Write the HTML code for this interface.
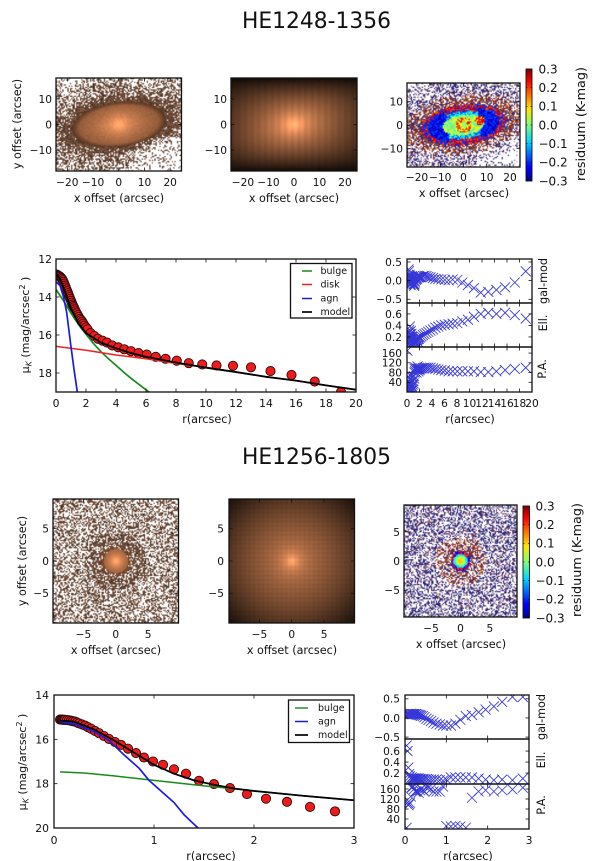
<!DOCTYPE html>
<html lang="en">
<head>
<meta charset="utf-8">
<title>HE1248-1356 and HE1256-1805 galaxy fits</title>
<style>
html,body{margin:0;padding:0;background:#fff;}
#figure{position:relative;width:600px;height:861px;overflow:hidden;background:#fff;font-family:"DejaVu Sans","Liberation Sans",sans-serif;}
canvas{position:absolute;display:block;}
svg{position:absolute;left:0;top:0;}
text{font-family:"DejaVu Sans","Liberation Sans",sans-serif;fill:#111;}
.lab{font-size:11.2px;text-anchor:middle;}
.side{font-size:11.2px;text-anchor:middle;}
.cb{font-size:12.8px;text-anchor:middle;}
.ttl{font-size:21.8px;text-anchor:middle;}
</style>
</head>
<body>
<div id="figure">
<canvas id="img1a" style="left:56px;top:78px;width:125.5px;height:93px"></canvas>
<canvas id="img1b" style="left:231px;top:78px;width:126px;height:93px"></canvas>
<canvas id="img1c" style="left:407px;top:83px;width:113px;height:84px"></canvas>
<canvas id="img2a" style="left:53px;top:499px;width:125.5px;height:124px"></canvas>
<canvas id="img2b" style="left:229px;top:499px;width:125.5px;height:124px"></canvas>
<canvas id="img2c" style="left:404px;top:505px;width:113px;height:112px"></canvas>
<svg id="plot" width="600" height="861" viewBox="0 0 600 861">
<defs>
<linearGradient id="jetGrad" x1="0" y1="1" x2="0" y2="0">
<stop offset="0" stop-color="#00007f"/><stop offset="0.11" stop-color="#0000ff"/><stop offset="0.125" stop-color="#0000ff"/>
<stop offset="0.35" stop-color="#00d5ff"/><stop offset="0.5" stop-color="#7dff7a"/><stop offset="0.64" stop-color="#ffe600"/>
<stop offset="0.89" stop-color="#ff0000"/><stop offset="1" stop-color="#7f0000"/>
</linearGradient>
</defs>
<text class="ttl" x="316.5" y="28">HE1248-1356</text>
<text class="ttl" x="316.5" y="464">HE1256-1805</text>

<text class="lab" x="119" y="202">x offset (arcsec)</text>
<text class="lab" x="294" y="202">x offset (arcsec)</text>
<text class="lab" x="464" y="197">x offset (arcsec)</text>
<text class="lab" transform="translate(21,124) rotate(-90)">y offset (arcsec)</text>
<text class="cb" transform="translate(585,124) rotate(-90)">residuum (K-mag)</text>

<text class="lab" x="116" y="654">x offset (arcsec)</text>
<text class="lab" x="292" y="654">x offset (arcsec)</text>
<text class="lab" x="461" y="648">x offset (arcsec)</text>
<text class="lab" transform="translate(26,561) rotate(-90)">y offset (arcsec)</text>
<text class="cb" transform="translate(581,560) rotate(-90)">residuum (K-mag)</text>

<text class="lab" x="207" y="423">r(arcsec)</text>
<text class="lab" x="470" y="423">r(arcsec)</text>
<text class="lab" x="211" y="860">r(arcsec)</text>
<text class="lab" x="468" y="860">r(arcsec)</text>
<text class="lab" style="font-size:11px" transform="translate(29,325) rotate(-90)">μ<tspan dy="2.5" font-size="8" font-style="italic">K</tspan><tspan dy="-2.5"> (mag/arcsec</tspan><tspan dy="-4" font-size="8">2</tspan><tspan dy="4"> )</tspan></text>
<text class="lab" style="font-size:11px" transform="translate(26,762) rotate(-90)">μ<tspan dy="2.5" font-size="8" font-style="italic">K</tspan><tspan dy="-2.5"> (mag/arcsec</tspan><tspan dy="-4" font-size="8">2</tspan><tspan dy="4"> )</tspan></text>

<text class="side" transform="translate(547,281) rotate(-90)">gal-mod</text>
<text class="side" transform="translate(547,323) rotate(-90)">Ell.</text>
<text class="side" transform="translate(546,369) rotate(-90)">P.A.</text>
<text class="side" transform="translate(545,717) rotate(-90)">gal-mod</text>
<text class="side" transform="translate(545,760) rotate(-90)">Ell.</text>
<text class="side" transform="translate(545,805) rotate(-90)">P.A.</text>
</svg>
</div>
<script>
/* ---------- HE1248-1356 profile data ---------- */
const p1Radius = [0.05,0.1,0.15,0.2,0.25,0.3,0.35,0.4,0.45,0.5,0.55,0.6,0.65,0.7,0.75,0.8,0.85,0.9,0.95,1,1.05,1.1,1.15,1.2,1.25,1.3,1.38,1.45,1.52,1.6,1.68,1.75,1.82,1.9,2,2.1,2.3,2.55,2.8,3.1,3.4,3.75,4.15,4.55,5,5.5,6.05,6.65,7.3,8.05,8.85,9.75,10.7,11.8,13,14.3,15.7,17.25,19];
const p1Mu = [12.82,12.85,12.87,12.9,12.92,12.95,13,13.05,13.12,13.2,13.3,13.4,13.5,13.6,13.7,13.8,13.9,14,14.1,14.2,14.3,14.4,14.48,14.55,14.65,14.75,14.85,14.95,15.05,15.15,15.22,15.3,15.4,15.5,15.6,15.7,15.9,16.05,16.2,16.3,16.4,16.55,16.65,16.75,16.85,16.95,17.03,17.15,17.25,17.35,17.48,17.55,17.6,17.62,17.7,17.9,18.1,18.45,19];
const p1GalMod = [0.05,-0.05,0.15,0.1,0.3,0.25,0.1,0.15,-0.05,0,-0.12,-0.1,0.05,-0.05,0.12,0.05,-0.02,0.1,0.05,0,-0.1,-0.08,-0.14,-0.1,0,-0.05,0.05,0.02,0.08,0.05,0.13,0.1,0.08,0.12,0.1,0.1,0.1,0.12,0.13,0.12,0.1,0.09,0.07,0.05,0.04,0.03,0.02,0.01,0.03,0.02,-0.05,-0.12,-0.2,-0.32,-0.3,-0.25,-0.18,-0.05,0.25];
const p1Ell = [0.1,0.05,0.2,0.1,0.28,0.15,0.32,0.2,0.38,0.25,0.2,0.3,0.12,0.25,0.08,0.2,0.1,0.16,0.06,0.12,0.08,0.1,0.12,0.1,0.15,0.12,0.1,0.14,0.18,0.15,0.12,0.16,0.2,0.17,0.2,0.19,0.21,0.23,0.25,0.27,0.29,0.31,0.33,0.36,0.38,0.4,0.41,0.42,0.43,0.44,0.47,0.5,0.55,0.6,0.62,0.6,0.62,0.58,0.52];
const p1PA = [170,15,60,10,30,20,8,40,70,55,12,35,5,15,25,20,60,30,10,45,35,65,55,80,95,85,100,92,80,95,105,95,85,96,90,96,97,98,100,100,100,100,97,95,92,90,88,85,85,85,85,85,85,82,82,85,90,95,100];
const p1BulgeR = [0,0.5,1,1.5,2,2.5,3,3.5,4,4.5,5,5.5,6.2];
const p1BulgeMu = [13.6,14.2,14.85,15.45,15.95,16.45,16.88,17.25,17.6,17.95,18.28,18.58,19];
const p1DiskR = [0,2,4,6,8,10,12,14,16,18,20];
const p1DiskMu = [16.6,16.8,17.05,17.25,17.5,17.7,17.95,18.2,18.4,18.65,18.88];
const p1AgnR = [0,0.27,0.5,0.71,0.98,1.2,1.42];
const p1AgnMu = [13.2,13.4,14,14.8,16.5,17.8,19];
const p1ModelR = [0,0.25,0.5,1,1.5,2,3,4,5,6,8,10,12,14,16,18,20];
const p1ModelMu = [12.8,13,13.5,14.6,15.4,15.9,16.4,16.7,16.95,17.15,17.45,17.72,17.95,18.2,18.4,18.65,18.88];

/* ---------- HE1256-1805 profile data ---------- */
const p2Radius = [0.06,0.07,0.08,0.09,0.1,0.11,0.13,0.15,0.17,0.19,0.21,0.23,0.25,0.28,0.31,0.34,0.37,0.41,0.45,0.5,0.55,0.61,0.67,0.74,0.82,0.9,0.99,1.09,1.2,1.32,1.45,1.6,1.76,1.93,2.12,2.33,2.56,2.81];
const p2Mu = [15.11,15.11,15.11,15.12,15.12,15.12,15.13,15.14,15.16,15.18,15.2,15.24,15.28,15.33,15.38,15.45,15.52,15.62,15.72,15.85,15.98,16.12,16.25,16.42,16.62,16.82,17,17.15,17.35,17.55,17.87,18.02,18.2,18.47,18.68,18.82,19.05,19.25];
const p2BulgeR = [0.06,0.3,0.6,1,1.5,2,2.5,3];
const p2BulgeMu = [17.47,17.52,17.65,17.85,18.1,18.32,18.55,18.75];
const p2AgnR = [0.06,0.2,0.4,0.55,0.7,0.85,0.95,1.05,1.2,1.3,1.44];
const p2AgnMu = [15.2,15.3,15.65,16.05,16.7,17.3,17.85,18.25,18.85,19.4,20];
const p2ModelR = [0.06,0.2,0.4,0.6,0.8,1,1.2,1.4,1.6,1.8,2,2.5,3];
const p2ModelMu = [15.15,15.2,15.55,16.05,16.6,17.15,17.55,17.85,18.05,18.22,18.33,18.55,18.75];
const p2ResidR = [0.04,0.06,0.08,0.1,0.12,0.14,0.16,0.18,0.2,0.22,0.25,0.27,0.3,0.33,0.36,0.39,0.43,0.47,0.52,0.57,0.63,0.69,0.76,0.84,0.92,1,1.11,1.22,1.34,1.47,1.62,1.78,1.95,2.15,2.35,2.6,2.85];
const p2GalMod = [0.1,0.1,0.1,0.1,0.1,0.11,0.1,0.1,0.1,0.1,0.1,0.1,0.09,0.08,0.07,0.06,0.05,0.02,-0.02,-0.05,-0.08,-0.12,-0.15,-0.17,-0.2,-0.2,-0.2,-0.15,-0.05,0.05,0.08,0.15,0.22,0.3,0.42,0.55,0.55];
const p2Ell = [0.7,0.6,0.3,0.18,0.14,0.1,0.12,0.1,0.1,0.1,0.1,0.1,0.1,0.1,0.09,0.09,0.09,0.09,0.09,0.08,0.08,0.08,0.08,0.07,0.06,0.08,0.12,0.12,0.12,0.12,0.12,0.1,0.08,0.07,0.08,0.07,0.1];
const p2PA = [5,105,95,100,105,130,165,170,170,160,150,150,150,145,155,160,155,150,165,165,160,150,150,150,170,12,10,12,10,5,125,150,155,150,155,158,165];

/* ---------- tick labels ---------- */
const imageTicks1 = [-20,-10,0,10,20];
const imageTicksY1 = [-10,0,10];
const imageTicks2 = [-5,0,5];
const colorbarTicks = [-0.3,-0.2,-0.1,0,0.1,0.2,0.3];
const profile1XTicks = [0,2,4,6,8,10,12,14,16,18,20];
const profile1YTicks = [12,14,16,18];
const profile2XTicks = [0,1,2,3];
const profile2YTicks = [14,16,18,20];
const galModTicks = [-0.5,0,0.5];
const ellTicks = [0.2,0.4,0.6];
const paTicks = [40,80,120,160];

/* ---------- image texture parameters: [centre level, tilt deg, semi-major, semi-minor] ---------- */
const galaxy1Shape = [0.68,7,18,8.5];
const galaxy2Shape = [0.55,0,2.6,2.6];

const NS = 'http://www.w3.org/2000/svg';
const svg = document.getElementById('plot');
let clipId = 0;

function make(tag, attrs, name, parent) {
  const el = document.createElementNS(NS, tag);
  for (const k in attrs) el.setAttribute(k, attrs[k]);
  
  
  (parent || svg).appendChild(el);
  return el;
}
function fmt(v, d) {
  const s = Math.abs(v).toFixed(d);
  return (v < 0 ? '\u2212' : '') + s;
}
function axes(x0, x1, y0, y1, xmin, xmax, ymin, ymax, name) {
  const a = {x0, x1, y0, y1, sx: v => x0 + (v - xmin) / (xmax - xmin) * (x1 - x0), sy: v => y1 - (v - ymin) / (ymax - ymin) * (y1 - y0), name};
  a.clip = 'clip' + (clipId++);
  const cp = make('clipPath', {id: a.clip}, name + '-clip');
  make('rect', {x: x0, y: y0, width: x1 - x0, height: y1 - y0}, name + '-clip-rect', cp);
  a.g = make('g', {'clip-path': 'url(#' + a.clip + ')'}, name + '-marks');
  return a;
}
function frame(a, w) {
  make('rect', {x: a.x0, y: a.y0, width: a.x1 - a.x0, height: a.y1 - a.y0, fill: 'none', stroke: '#111', 'stroke-width': w || 1.3}, a.name + '-frame');
}
function xTicks(a, vals, d, base, size, showLabels) {
  vals.forEach(v => {
    const x = a.sx(v);
    make('line', {x1: x, x2: x, y1: a.y1, y2: a.y1 - 3.5, stroke: '#111', 'stroke-width': 0.8}, a.name + '-x-tick');
    make('line', {x1: x, x2: x, y1: a.y0, y2: a.y0 + 3.5, stroke: '#111', 'stroke-width': 0.8}, a.name + '-x-tick-top');
    if (showLabels) {
      const t = make('text', {x: x, y: base, 'text-anchor': 'middle', 'font-size': size}, a.name + '-x-tick-label');
      t.textContent = fmt(v, d);
    }
  });
}
function yTicks(a, vals, d, end, size) {
  vals.forEach(v => {
    const y = a.sy(v);
    make('line', {x1: a.x0, x2: a.x0 + 3.5, y1: y, y2: y, stroke: '#111', 'stroke-width': 0.8}, a.name + '-y-tick');
    make('line', {x1: a.x1, x2: a.x1 - 3.5, y1: y, y2: y, stroke: '#111', 'stroke-width': 0.8}, a.name + '-y-tick-right');
    const t = make('text', {x: end, y: y + size * 0.37, 'text-anchor': 'end', 'font-size': size}, a.name + '-y-tick-label');
    t.textContent = fmt(v, d);
  });
}
function series(a, xs, ys, colour, width, name) {
  const pts = xs.map((v, i) => a.sx(v).toFixed(2) + ',' + a.sy(ys[i]).toFixed(2)).join(' ');
  make('polyline', {points: pts, fill: 'none', stroke: colour, 'stroke-width': width, 'stroke-linejoin': 'round'}, name, a.g);
}
function circles(a, xs, ys, name) {
  xs.forEach((v, i) => {
    make('circle', {cx: a.sx(v), cy: a.sy(ys[i]), r: 4.6, fill: '#f01a1a', stroke: '#2a0c0c', 'stroke-width': 0.9}, name, a.g);
  });
}
function crosses(a, xs, ys, name) {
  xs.forEach((v, i) => {
    const x = a.sx(v), y = a.sy(ys[i]), h = 5;
    make('path', {d: 'M' + (x - h) + ' ' + (y - h) + 'L' + (x + h) + ' ' + (y + h) + 'M' + (x - h) + ' ' + (y + h) + 'L' + (x + h) + ' ' + (y - h), stroke: '#3636d8', 'stroke-width': 0.85, fill: 'none'}, name, a.g);
  });
}
function legend(x, y, w, h, lineX0, lineX1, textX, rows, name) {
  make('rect', {x: x, y: y, width: w, height: h, fill: '#fff', stroke: '#111', 'stroke-width': 1.3}, name + '-box');
  rows.forEach(r => {
    make('line', {x1: lineX0, x2: lineX1, y1: r[2], y2: r[2], stroke: r[1], 'stroke-width': r[3]}, name + '-swatch-' + r[0]);
    const t = make('text', {x: textX, y: r[2] + 3.2, 'font-size': 9.5}, name + '-label-' + r[0]);
    t.textContent = r[0];
  });
}
function colorbar(x0, x1, y0, y1, labelX, name) {
  make('rect', {x: x0, y: y0, width: x1 - x0, height: y1 - y0, fill: 'url(#jetGrad)', stroke: '#111', 'stroke-width': 0.9}, name);
  colorbarTicks.forEach(v => {
    const y = y1 - (v + 0.3) / 0.6 * (y1 - y0);
    make('line', {x1: x0, x2: x0 + 1.5, y1: y, y2: y, stroke: '#111', 'stroke-width': 0.6}, name + '-tick');
    make('line', {x1: x1, x2: x1 - 1.5, y1: y, y2: y, stroke: '#111', 'stroke-width': 0.6}, name + '-tick-right');
    const t = make('text', {x: labelX, y: y + 4.4, 'font-size': 12}, name + '-tick-label');
    t.textContent = fmt(v, 1);
  });
}

/* ---------- raster textures ---------- */
function rng(seed) {
  return function () {
    seed |= 0; seed = seed + 0x6D2B79F5 | 0;
    let t = Math.imul(seed ^ seed >>> 15, 1 | seed);
    t = t + Math.imul(t ^ t >>> 7, 61 | t) ^ t;
    return ((t ^ t >>> 14) >>> 0) / 4294967296;
  };
}
function copper(v) {
  v = Math.max(0, Math.min(1, v));
  return [Math.min(255, 318.75 * v), 199 * v, 127 * v];
}
function jet(v) {
  const t = Math.max(0, Math.min(1, (v + 0.3) / 0.6));
  const c = (a) => Math.max(0, Math.min(1, a));
  return [255 * c(Math.min(4 * t - 1.5, 4.5 - 4 * t)), 255 * c(Math.min(4 * t - 0.5, 3.5 - 4 * t)), 255 * c(Math.min(4 * t + 0.5, 2.5 - 4 * t))];
}
function paint(id, w, h, xr, yr, fn) {
  const c = document.getElementById(id);
  c.width = w; c.height = h;
  const ctx = c.getContext('2d');
  const im = ctx.createImageData(w, h);
  for (let j = 0; j < h; j++) {
    for (let i = 0; i < w; i++) {
      const x = -xr + (i + 0.5) / w * 2 * xr;
      const y = yr - (j + 0.5) / h * 2 * yr;
      const col = fn(x, y);
      const k = (j * w + i) * 4;
      im.data[k] = col[0]; im.data[k + 1] = col[1]; im.data[k + 2] = col[2]; im.data[k + 3] = 255;
    }
  }
  ctx.putImageData(im, 0, 0);
}
const WHITE = [255, 255, 255];
function tilt(shape, x, y) {
  const t = shape[1] * Math.PI / 180;
  return [x * Math.cos(t) + y * Math.sin(t), -x * Math.sin(t) + y * Math.cos(t)];
}
function ell(shape, x, y) {
  const p = tilt(shape, x, y);
  return Math.sqrt(p[0] * p[0] / (shape[2] * shape[2]) + p[1] * p[1] / (shape[3] * shape[3]));
}
function holeProb1(e, x, y) {
  let p = e < 1.02 ? 0 : e < 1.5 ? (e - 1.02) * 0.85 : Math.min(0.72, 0.41 + (e - 1.5) * 0.25);
  if (x > 6 && y < -5) p = Math.min(0.88, p + 0.28);
  if (x < -15 && y > 10) p = Math.min(0.8, p + 0.1);
  return p;
}
function greyBrown(R) {
  const g = R();
  return [70 + g * 70, 48 + g * 50, 34 + g * 42];
}

let R = rng(11);
paint('img1a', 100, 74, 24.5, 18, (x, y) => {
  const e = ell(galaxy1Shape, x, y), d = Math.hypot(x, y);
  let v = galaxy1Shape[0] * Math.exp(-0.45 * e) + 0.24 * Math.exp(-d / 3.5);
  if (e > 1.02) {
    if (R() < holeProb1(e, x, y)) return WHITE;
    return greyBrown(R);
  }
  if (e > 0.86) v *= 0.62 + (1.02 - e) * 2.4;
  v *= 0.95 + R() * 0.1;
  return copper(v);
});
paint('img1b', 126, 93, 24.7, 18, (x, y) => {
  const t = tilt(galaxy1Shape, x, y);
  const e = Math.sqrt(t[0] * t[0] / 676 + t[1] * t[1] / 225), d = Math.hypot(x, y);
  let v = 0.72 * Math.exp(-0.9 * e) + 0.22 * Math.exp(-d / 3.5);
  v *= (1 - 0.88 * Math.pow(Math.abs(y) / 18, 4)) * (1 - 0.22 * Math.pow(Math.abs(x) / 24.7, 4));
  v *= 1 + 0.045 * Math.sin(x * 2.4);
  return copper(v + 0.03);
});
R = rng(23);
paint('img1c', 92, 68, 24.3, 18, (x, y) => {
  const p = tilt([0, 7], x, y);
  const e = ell([0, 7, 18, 8.5], x, y), d = Math.hypot(x, y);
  let v;
  if (e < 1.02) {
    if (d < 1.5) v = 0.03 + (R() - 0.5) * 0.1;
    else if (d < 3.4) v = R() < 0.6 ? 0.19 + (R() - 0.5) * 0.14 : 0.05;
    else if (Math.hypot(x - 7, y - 2) < 2) v = R() < 0.6 ? 0.24 : 0.1;
    else if (e < 0.5) v = 0.02 + (R() - 0.5) * 0.18;
    else if (Math.abs(p[0]) > 7 && e < 0.86) v = -0.25 + (R() - 0.3) * 0.12;
    else if (e < 0.7) v = -0.1 + (R() - 0.5) * 0.22;
    else v = R() < 0.6 ? 0.22 + (R() - 0.5) * 0.12 : -0.2;
    return jet(v);
  }
  if (e < 1.5) {
    if (R() < 0.2 + holeProb1(e, x, y) * 0.5) return WHITE;
    const r = R();
    if (r < 0.42) return [135, 40, 35];
    if (r < 0.58) return [210, 115, 40];
    if (r < 0.76) return [40, 45, 150];
    return [110, 95, 100];
  }
  if (R() < holeProb1(e, x, y)) return WHITE;
  const r = R();
  if (r < 0.46) return [38, 34, 120];
  if (r < 0.7) return [130, 115, 160];
  if (r < 0.86) return [125, 45, 50];
  return [190, 170, 185];
});

R = rng(37);
paint('img2a', 104, 103, 9.6, 9.6, (x, y) => {
  const d = Math.hypot(x, y);
  if (d < 1.9) return copper(0.42 + 0.08 * (1 - d / 1.9) + 0.42 * Math.exp(-d / 1.15));
  if (d < 2.4) return R() < 0.15 ? WHITE : copper(0.3 + R() * 0.12);
  const p = d < 4.5 ? 0.3 : 0.52;
  if (R() < p) return WHITE;
  return greyBrown(R);
});
paint('img2b', 126, 124, 9.6, 9.6, (x, y) => {
  const d = Math.hypot(x, y);
  let v = galaxy2Shape[0] * (1 - Math.pow(d / 15, 1.45)) + 0.36 * Math.exp(-d / 1.1);
  v *= (1 + 0.03 * Math.sin(x * 9)) * (1 + 0.03 * Math.sin(y * 9));
  return copper(v);
});
R = rng(53);
paint('img2c', 96, 95, 9.6, 9.6, (x, y) => {
  const d = Math.hypot(x, y);
  if (d < 0.5) return jet(0.1 + (R() - 0.5) * 0.04);
  if (d < 0.85) return jet(0.03 + (R() - 0.5) * 0.05);
  if (d < 1.2) return jet(-0.07 + (R() - 0.5) * 0.06);
  if (d < 1.7) return R() < 0.5 ? jet(-0.22) : jet(0.2);
  if (d < 4.4) {
    if (R() < 0.33 + (d - 1.7) * 0.07) return WHITE;
    const r = R();
    if (r < 0.5) return [140, 45, 40];
    if (r < 0.62) return [205, 130, 50];
    if (r < 0.8) return [130, 110, 130];
    return [45, 45, 135];
  }
  if (R() < 0.5) return WHITE;
  const r = R();
  if (r < 0.5) return [36, 36, 125];
  if (r < 0.85) return [135, 115, 160];
  return [120, 55, 70];
});

/* ---------- image axes ---------- */
function imageAxes(x0, x1, y0, y1, xr, yr, xt, yt, xBase, yEnd, name) {
  const a = axes(x0, x1, y0, y1, -xr, xr, -yr, yr, name);
  frame(a);
  xTicks(a, xt, 0, xBase, 10.6, true);
  yTicks(a, yt, 0, yEnd, 10.6);
  return a;
}
imageAxes(56, 181.5, 78, 171, 24.4, 18.2, imageTicks1, imageTicksY1, 186, 52, 'image-axes-1a');
imageAxes(231, 357, 78, 171, 24.7, 18.2, imageTicks1, imageTicksY1, 186, 227, 'image-axes-1b');
imageAxes(407, 520, 83, 167, 24.3, 18, imageTicks1, imageTicksY1, 181, 403, 'image-axes-1c');
imageAxes(53, 178.5, 499, 623, 9.7, 9.6, imageTicks2, imageTicks2, 638, 49, 'image-axes-2a');
imageAxes(229, 354.5, 499, 623, 9.7, 9.6, imageTicks2, imageTicks2, 638, 224, 'image-axes-2b');
imageAxes(404, 517, 505, 617, 9.6, 9.6, imageTicks2, imageTicks2, 632, 400, 'image-axes-2c');
colorbar(526, 532, 69, 181, 538.5, 'colorbar-1');
colorbar(523, 529.5, 506, 618, 535.5, 'colorbar-2');

/* ---------- profile 1 ---------- */
const P1 = axes(56, 356, 259, 392, 0, 20, 19, 12, 'profile-1');
circles(P1, p1Radius, p1Mu, 'profile-1-point');
series(P1, p1BulgeR, p1BulgeMu, '#1a8a1a', 1.7, 'profile-1-bulge-line');
series(P1, p1DiskR, p1DiskMu, '#f02020', 1.5, 'profile-1-disk-line');
series(P1, p1AgnR, p1AgnMu, '#1c1ce0', 1.7, 'profile-1-agn-line');
series(P1, p1ModelR, p1ModelMu, '#000', 1.8, 'profile-1-model-line');
frame(P1);
xTicks(P1, profile1XTicks, 0, 407, 10.8, true);
yTicks(P1, profile1YTicks, 0, 52, 10.8);
legend(290.5, 263.5, 61.5, 54.5, 302, 312, 320.5, [['bulge', '#1a8a1a', 271, 1.5], ['disk', '#f02020', 284.5, 1.5], ['agn', '#1c1ce0', 298.5, 1.5], ['model', '#000', 312, 1.7]], 'legend-1');

/* ---------- residual stack 1 ---------- */
const G1 = axes(407, 532, 259, 303, 0, 20, -0.6, 0.58, 'gal-mod-1');
crosses(G1, p1Radius, p1GalMod, 'gal-mod-1-marker');
frame(G1);
xTicks(G1, profile1XTicks, 0, 0, 10, false);
yTicks(G1, galModTicks, 1, 402, 10.6);
const E1 = axes(407, 532, 303, 347, 0, 20, 0.025, 0.79, 'ellipticity-1');
crosses(E1, p1Radius, p1Ell, 'ellipticity-1-marker');
frame(E1);
xTicks(E1, profile1XTicks, 0, 0, 10, false);
yTicks(E1, ellTicks, 1, 402, 10.6);
const A1 = axes(407, 532, 347, 392, 0, 20, 0, 185, 'position-angle-1');
crosses(A1, p1Radius, p1PA, 'position-angle-1-marker');
frame(A1);
xTicks(A1, profile1XTicks, 0, 407, 10.6, true);
yTicks(A1, paTicks, 0, 402, 10.6);

/* ---------- profile 2 ---------- */
const P2 = axes(54, 354, 695, 828, 0, 3, 20, 14, 'profile-2');
circles(P2, p2Radius, p2Mu, 'profile-2-point');
series(P2, p2BulgeR, p2BulgeMu, '#1a8a1a', 1.5, 'profile-2-bulge-line');
series(P2, p2AgnR, p2AgnMu, '#1c1ce0', 1.7, 'profile-2-agn-line');
series(P2, p2ModelR, p2ModelMu, '#000', 1.8, 'profile-2-model-line');
frame(P2);
xTicks(P2, profile2XTicks, 0, 844, 10.8, true);
yTicks(P2, profile2YTicks, 0, 49, 10.8);
legend(288.5, 700, 61, 42.5, 295, 308, 318, [['bulge', '#1a8a1a', 708, 1.4], ['agn', '#1c1ce0', 721.5, 1.5], ['model', '#000', 735, 1.7]], 'legend-2');

/* ---------- residual stack 2 ---------- */
const G2 = axes(405, 529, 695, 739, 0, 3, -0.55, 0.6, 'gal-mod-2');
crosses(G2, p2ResidR, p2GalMod, 'gal-mod-2-marker');
frame(G2);
xTicks(G2, profile2XTicks, 0, 0, 10, false);
yTicks(G2, galModTicks, 1, 400, 10.6);
const E2 = axes(405, 529, 739, 784, 0, 3, 0, 0.82, 'ellipticity-2');
crosses(E2, p2ResidR, p2Ell, 'ellipticity-2-marker');
frame(E2);
xTicks(E2, profile2XTicks, 0, 0, 10, false);
yTicks(E2, ellTicks, 1, 400, 10.6);
const A2 = axes(405, 529, 784, 829, 0, 3, 0, 180, 'position-angle-2');
crosses(A2, p2ResidR, p2PA, 'position-angle-2-marker');
frame(A2);
xTicks(A2, profile2XTicks, 0, 844, 10.8, true);
yTicks(A2, paTicks, 0, 400, 10.6);
</script>
</body>
</html>
